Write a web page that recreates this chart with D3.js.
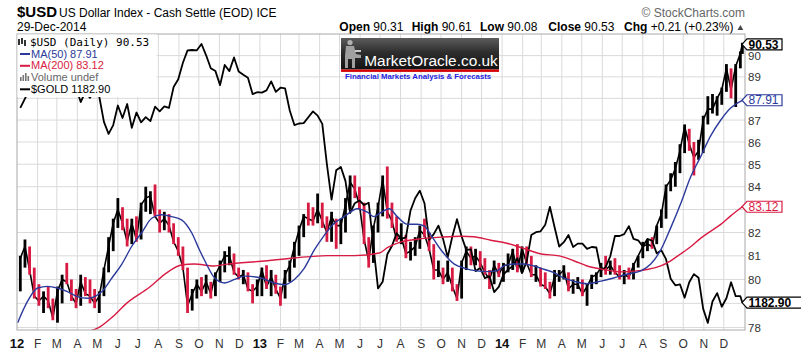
<!DOCTYPE html>
<html>
<head>
<meta charset="utf-8">
<script src="https://cdn.jsdelivr.net/npm/d3@7"></script>
<style>
  body { margin: 0; background: #fff; }
  svg { display: block; }
</style>
</head>
<body>
<div id="chart"></div>
<script>
// weekly USD bars (Fridays from 6 Jan 2012, last bar 29 Dec 2014)
const usdClose = [
  80.9, 81.4, 80.4, 79.3, 79.1, 79.3, 79.1, 78.4, 79.5, 80.0, 79.9, 79.3, 79.0, 79.9, 79.4, 79.3, 79.0, 79.3, 80.4, 81.4,
  82.4, 83.0, 82.4, 81.6, 82.4, 81.7, 83.2, 83.5, 83.6, 82.7, 82.4, 82.6, 82.3, 81.6, 81.2, 80.5, 78.9, 79.4, 79.8, 79.5,
  79.9, 79.4, 80.2, 80.6, 81.0, 81.0, 80.3, 80.1, 80.2, 79.6, 79.5, 79.7,
  80.4, 79.7, 80.1, 79.6, 79.2, 80.2, 80.6, 81.4, 82.1, 82.7, 82.6, 82.5, 83.0, 82.5, 82.0, 82.7, 82.3, 82.3, 83.2, 84.2,
  83.9, 83.2, 81.7, 80.8, 82.2, 83.1, 84.3, 82.9, 82.5, 81.7, 81.8, 81.1, 81.2, 81.4, 82.1, 81.9, 81.3, 80.4, 80.4, 80.0,
  80.3, 79.7, 79.2, 80.7, 81.2, 80.9, 81.0, 80.7, 80.3, 80.0, 80.6, 80.2,
  80.6, 80.6, 81.2, 80.4, 81.3, 80.7, 80.2, 80.2, 79.8, 79.7, 79.4, 80.1, 80.2, 80.4, 79.6, 79.8, 79.8, 79.4, 79.7, 80.1,
  80.2, 80.5, 80.4, 80.6, 80.3, 80.1, 80.2, 80.1, 80.6, 81.0, 81.4, 81.5, 81.4, 82.3, 82.8, 84.0, 84.3, 84.8, 85.6, 86.7,
  85.9, 85.3, 85.6, 87.0, 87.5, 87.5, 88.0, 88.4, 89.4, 88.4, 89.5, 90.1, 90.53
];
const usdHigh = [
  81.0, 81.7, 81.4, 80.5, 79.8, 79.5, 79.7, 79.2, 79.7, 80.2, 80.7, 80.0, 79.6, 80.2, 80.1, 80.0, 79.6, 79.5, 80.5, 81.8,
  82.6, 83.5, 83.1, 82.6, 82.6, 82.7, 83.3, 84.0, 83.8, 84.1, 83.0, 82.9, 82.8, 82.4, 81.8, 81.4, 80.5, 79.6, 80.0, 80.1,
  80.2, 79.9, 80.3, 80.8, 81.2, 81.4, 81.1, 80.5, 80.4, 80.3, 79.8, 80.0,
  80.5, 80.6, 80.4, 80.2, 79.7, 80.4, 80.8, 81.6, 82.3, 82.8, 83.3, 83.1, 83.7, 83.3, 82.7, 82.9, 82.6, 82.6, 83.5, 84.5,
  84.5, 84.0, 83.3, 81.8, 82.3, 83.3, 84.5, 84.9, 83.3, 82.7, 82.4, 81.9, 81.6, 81.8, 82.3, 82.6, 82.0, 81.5, 80.8, 80.5,
  80.8, 80.5, 79.8, 80.8, 81.4, 81.4, 81.3, 81.2, 80.9, 80.4, 80.8, 80.7,
  80.7, 81.1, 81.3, 81.5, 81.4, 81.4, 81.0, 80.6, 80.5, 80.3, 79.9, 80.4, 80.4, 80.6, 80.3, 80.0, 80.1, 80.0, 79.8, 80.2,
  80.3, 80.7, 81.0, 80.8, 80.9, 80.6, 80.4, 80.5, 80.7, 81.0, 81.6, 81.7, 81.8, 82.3, 83.0, 84.1, 84.6, 85.1, 85.9, 86.8,
  86.6, 86.0, 86.1, 87.2, 88.1, 88.2, 88.1, 88.5, 89.6, 89.4, 89.6, 90.2, 90.61
];
const usdLow = [
  79.5, 80.5, 80.2, 79.2, 78.9, 78.6, 78.8, 78.3, 78.2, 79.0, 79.8, 79.1, 78.8, 78.9, 79.3, 79.0, 78.8, 78.6, 79.3, 80.3,
  81.2, 82.2, 82.1, 81.4, 81.5, 81.6, 81.7, 82.9, 82.8, 82.7, 82.0, 82.1, 82.0, 81.5, 81.0, 80.4, 78.6, 78.7, 79.2, 79.3,
  79.4, 79.2, 79.3, 79.9, 80.3, 80.6, 80.2, 80.0, 79.8, 79.5, 79.0, 79.3,
  79.3, 79.6, 79.3, 79.4, 78.9, 79.2, 79.9, 80.5, 81.0, 81.8, 82.3, 82.3, 82.4, 82.2, 81.6, 81.6, 81.3, 81.5, 82.0, 83.0,
  83.5, 83.0, 81.5, 80.5, 80.7, 82.0, 82.7, 82.6, 82.2, 81.6, 81.5, 80.9, 80.8, 81.0, 81.3, 81.8, 81.2, 80.0, 80.1, 79.8,
  79.9, 79.5, 79.1, 79.2, 80.4, 80.6, 80.6, 80.5, 80.2, 79.6, 79.8, 80.1,
  79.9, 80.3, 80.4, 80.3, 80.3, 80.6, 80.1, 79.9, 79.7, 79.6, 79.2, 79.3, 79.9, 80.0, 79.5, 79.4, 79.6, 79.3, 78.9, 79.6,
  79.8, 80.1, 80.2, 80.2, 80.2, 80.0, 79.8, 80.0, 80.0, 80.5, 80.9, 81.2, 81.3, 81.5, 82.2, 82.6, 83.8, 84.0, 84.6, 85.5,
  85.6, 84.5, 85.2, 85.5, 86.8, 87.3, 87.2, 87.7, 88.3, 88.0, 87.6, 89.4, 90.08
];
// $GOLD overlay, same weeks
const goldClose = [
  1616, 1640, 1664, 1737, 1725, 1722, 1725, 1775, 1710, 1711, 1656, 1662, 1668, 1631, 1658, 1642, 1663, 1645, 1580, 1550,
  1572, 1622, 1590, 1626, 1565, 1604, 1579, 1592, 1582, 1619, 1607, 1620, 1616, 1671, 1692, 1737, 1772, 1773, 1772, 1790,
  1758, 1722, 1714, 1676, 1731, 1714, 1752, 1713, 1704, 1696, 1652, 1657,
  1656, 1662, 1686, 1658, 1669, 1667, 1609, 1572, 1576, 1577, 1592, 1607, 1596, 1575, 1476, 1395, 1462, 1470, 1437, 1365,
  1387, 1393, 1383, 1388, 1296, 1210, 1223, 1278, 1295, 1322, 1310, 1313, 1371, 1398, 1415, 1387, 1308, 1320, 1338, 1310,
  1272, 1315, 1352, 1315, 1287, 1288, 1244, 1250, 1230, 1234, 1203, 1213,
  1237, 1247, 1254, 1270, 1240, 1263, 1318, 1324, 1326, 1340, 1379, 1335, 1294, 1303, 1318, 1293, 1300, 1300, 1289, 1293,
  1292, 1245, 1252, 1274, 1316, 1316, 1320, 1337, 1310, 1307, 1294, 1310, 1306, 1280, 1286, 1268, 1229, 1216, 1218, 1192,
  1222, 1238, 1231, 1171, 1145, 1185, 1201, 1175, 1191, 1222, 1195, 1195, 1182.9
];
const ma50 = [
  ["2012-01-02", 78.2], ["2012-01-17", 79.09], ["2012-02-01", 79.64], ["2012-02-16", 79.71], ["2012-03-02", 79.64],
  ["2012-03-17", 79.49], ["2012-04-01", 79.28], ["2012-04-16", 79.21], ["2012-04-27", 79.28], ["2012-05-08", 79.49],
  ["2012-05-23", 80.06], ["2012-06-07", 80.65], ["2012-06-22", 81.41], ["2012-07-07", 82.0], ["2012-07-22", 82.62],
  ["2012-08-06", 82.77], ["2012-08-21", 82.69], ["2012-09-05", 82.55], ["2012-09-20", 82.0], ["2012-10-02", 81.25],
  ["2012-10-10", 80.79], ["2012-10-25", 80.06], ["2012-11-09", 79.85], ["2012-11-24", 80.0], ["2012-12-09", 80.14],
  ["2013-01-03", 80.06], ["2013-01-23", 79.85], ["2013-02-07", 79.78], ["2013-02-22", 80.0], ["2013-03-09", 80.48],
  ["2013-03-24", 81.25], ["2013-04-08", 81.88], ["2013-04-23", 82.4], ["2013-05-08", 82.69], ["2013-05-28", 83.03],
  ["2013-06-12", 82.88], ["2013-06-22", 82.69], ["2013-07-03", 82.88], ["2013-07-15", 83.03], ["2013-07-27", 82.69],
  ["2013-08-11", 82.36], ["2013-08-26", 82.36], ["2013-09-06", 82.28], ["2013-09-16", 81.88], ["2013-10-01", 81.25],
  ["2013-10-21", 80.65], ["2013-11-05", 80.48], ["2013-11-24", 80.36], ["2013-12-09", 80.33], ["2013-12-24", 80.36],
  ["2014-01-04", 80.57], ["2014-01-19", 80.65], ["2014-02-03", 80.65], ["2014-02-18", 80.57], ["2014-03-05", 80.43],
  ["2014-03-20", 80.29], ["2014-04-04", 80.06], ["2014-04-19", 79.93], ["2014-05-09", 79.82], ["2014-05-30", 79.93],
  ["2014-06-18", 80.06], ["2014-07-08", 80.22], ["2014-07-29", 80.36], ["2014-08-13", 80.65], ["2014-08-28", 81.25],
  ["2014-09-12", 82.2], ["2014-09-27", 83.25], ["2014-10-12", 84.43], ["2014-10-27", 85.33], ["2014-11-11", 86.27],
  ["2014-11-26", 86.98], ["2014-12-11", 87.54], ["2014-12-29", 87.91]
];
const ma200 = [
  ["2012-04-12", 77.8], ["2012-05-05", 78.03], ["2012-05-24", 78.44], ["2012-06-14", 79.0], ["2012-07-19", 79.68],
  ["2012-08-13", 80.27], ["2012-09-06", 80.62], ["2012-09-24", 80.65], ["2012-10-24", 80.57], ["2012-11-13", 80.65],
  ["2013-01-03", 80.77], ["2013-02-22", 80.91], ["2013-04-12", 81.01], ["2013-05-23", 81.01], ["2013-06-30", 81.12],
  ["2013-07-12", 81.35], ["2013-08-02", 81.6], ["2013-08-26", 81.71], ["2013-10-01", 81.8], ["2013-10-31", 81.84],
  ["2013-11-19", 81.82], ["2013-12-15", 81.67], ["2014-01-08", 81.54], ["2014-02-03", 81.31], ["2014-03-01", 81.08],
  ["2014-03-28", 81.0], ["2014-04-19", 80.79], ["2014-05-09", 80.57], ["2014-06-03", 80.42], ["2014-06-29", 80.32],
  ["2014-07-19", 80.35], ["2014-08-07", 80.42], ["2014-08-28", 80.57], ["2014-09-12", 80.79], ["2014-09-27", 81.08],
  ["2014-10-12", 81.39], ["2014-10-27", 81.75], ["2014-11-11", 82.05], ["2014-11-26", 82.34], ["2014-12-11", 82.71],
  ["2014-12-29", 83.12]
];
const gridLevels = [78, 79, 80, 81, 82, 83, 84, 85, 86, 87, 88, 89, 90];
const priceLabels = [78, 80, 81, 82, 84, 85, 86, 87, 89, 90];
const monthLetters = ["J", "F", "M", "A", "M", "J", "J", "A", "S", "O", "N", "D"];
const quote = [["Open", "90.31"], ["High", "90.61"], ["Low", "90.08"], ["Close", "90.53"], ["Chg", "+0.21 (+0.23%)"]];

const parseDate = d3.timeParse("%Y-%m-%d");
const weekDates = d3.timeFriday.range(new Date(2012, 0, 6), new Date(2014, 11, 27)).concat([new Date(2014, 11, 29)]);
const months = d3.timeMonth.range(new Date(2012, 0, 1), new Date(2015, 0, 1));

const width = 801, height = 352;
const plot = {left: 17, right: 745, top: 34, bottom: 330};
const red = '#d81b43', blue = '#2b3a9c';

const svg = d3.select('#chart').append('svg')
  .attr('width', width)
  .attr('height', height)
  .style('font-family', '"Liberation Sans", Arial, sans-serif');

const x = d3.scaleTime()
  .domain([new Date(2012, 0, 1), new Date(2015, 0, 2)])
  .range([plot.left, plot.right]);
const y = d3.scaleLog()
  .domain([77.9, 91.03])
  .range([plot.bottom, plot.top]);
const yGold = d3.scaleLog()
  .domain([1132, 1819])
  .range([plot.bottom, plot.top]);

const defs = svg.append('defs');
defs.append('clipPath').attr('id', 'clip')
  .append('rect')
  .attr('x', plot.left).attr('y', plot.top)
  .attr('width', plot.right - plot.left).attr('height', plot.bottom - plot.top);
const grad = defs.append('linearGradient').attr('id', 'logoGrad')
  .attr('x1', 0).attr('y1', 0).attr('x2', 0).attr('y2', 1);
grad.append('stop').attr('offset', '0%').attr('stop-color', '#5c5c5c');
grad.append('stop').attr('offset', '45%').attr('stop-color', '#2e2e2e');
grad.append('stop').attr('offset', '100%').attr('stop-color', '#121212');

// header
svg.append('text').attr('x', 17).attr('y', 17)
  .attr('font-size', '15px').attr('font-weight', 'bold').text('$USD');
svg.append('text').attr('x', 59).attr('y', 17)
  .attr('font-size', '12px').text('US Dollar Index - Cash Settle (EOD) ICE');
svg.append('text').attr('x', 17).attr('y', 31)
  .attr('font-size', '12px').text('29-Dec-2014');
svg.append('text').attr('x', 745).attr('y', 17)
  .attr('text-anchor', 'end').attr('font-size', '12px').attr('fill', '#666')
  .text('\u00a9 StockCharts.com');

const quoteX = [339.3, 411.7, 480, 548.3, 624];
quote.forEach(([label, value], i) => {
  const t = svg.append('text').attr('x', quoteX[i]).attr('y', 31).attr('font-size', '12px');
  t.append('tspan').attr('font-weight', 'bold').text(label);
  t.append('tspan').text(' ' + value);
});
svg.append('path')
  .attr('d', 'M737.5,30 L743.3,30 L740.4,25 Z')
  .attr('fill', '#444');

// grid
const grid = svg.append('g');
grid.selectAll('line.h')
  .data(gridLevels)
  .enter()
  .append('line')
  .attr('class', 'h')
  .attr('x1', plot.left).attr('x2', plot.right)
  .attr('y1', d => y(d)).attr('y2', d => y(d))
  .attr('stroke', '#dadada');
grid.selectAll('line.v')
  .data(months.slice(1))
  .enter()
  .append('line')
  .attr('class', 'v')
  .attr('x1', d => x(d)).attr('x2', d => x(d))
  .attr('y1', plot.top).attr('y2', plot.bottom)
  .attr('stroke', '#dadada');

const marks = svg.append('g').attr('clip-path', 'url(#clip)');

// price: close line joining the weekly bars, then the high-low bars
marks.append('path')
  .datum(usdClose)
  .attr('fill', 'none')
  .attr('stroke', '#000')
  .attr('stroke-width', 1.6)
  .attr('d', d3.line().x((d, i) => x(weekDates[i])).y(d => y(d)));
marks.selectAll('rect.bar')
  .data(weekDates)
  .enter()
  .append('rect')
  .attr('class', 'bar')
  .attr('x', d => x(d) - 1.4)
  .attr('width', 2.8)
  .attr('y', (d, i) => y(usdHigh[i]))
  .attr('height', (d, i) => Math.max(1, y(usdLow[i]) - y(usdHigh[i])))
  .attr('fill', (d, i) => i > 0 && usdClose[i] < usdClose[i - 1] ? red : '#000');

// gold overlay
marks.append('path')
  .datum(goldClose)
  .attr('fill', 'none')
  .attr('stroke', '#000')
  .attr('stroke-width', 1.8)
  .attr('stroke-linejoin', 'round')
  .attr('d', d3.line().x((d, i) => x(weekDates[i])).y(d => yGold(d)));

const maLine = d3.line()
  .x(d => x(parseDate(d[0])))
  .y(d => y(d[1]))
  .curve(d3.curveMonotoneX);
marks.append('path').datum(ma200)
  .attr('fill', 'none').attr('stroke', red).attr('stroke-width', 1.4)
  .attr('d', maLine);
marks.append('path').datum(ma50)
  .attr('fill', 'none').attr('stroke', blue).attr('stroke-width', 1.4)
  .attr('d', maLine);

// plot frame
svg.append('rect')
  .attr('x', plot.left).attr('y', plot.top)
  .attr('width', plot.right - plot.left).attr('height', plot.bottom - plot.top)
  .attr('fill', 'none').attr('stroke', '#a8a8a8');

// x axis labels
svg.append('g')
  .selectAll('text')
  .data(months)
  .enter()
  .append('text')
  .attr('x', d => x(d))
  .attr('y', 348)
  .attr('text-anchor', 'middle')
  .attr('font-size', d => d.getMonth() === 0 ? '13px' : '12px')
  .attr('font-weight', d => d.getMonth() === 0 ? 'bold' : 'normal')
  .attr('fill', d => d.getMonth() === 0 ? '#111' : '#333')
  .text(d => d.getMonth() === 0 ? d3.timeFormat('%y')(d) : monthLetters[d.getMonth()]);

// right axis labels
svg.append('g')
  .selectAll('text')
  .data(priceLabels)
  .enter()
  .append('text')
  .attr('x', 748)
  .attr('y', d => y(d) + 4.5)
  .attr('font-size', '11.5px')
  .attr('fill', '#333')
  .text(d => d);

// value tags
function valueTag(yPos, label, color, bold, w) {
  const g = svg.append('g');
  g.append('path')
    .attr('d', `M742,${yPos} L747,${yPos - 5.5} L${747 + w},${yPos - 5.5} L${747 + w},${yPos + 5.5} L747,${yPos + 5.5} Z`)
    .attr('fill', '#fff').attr('stroke', color).attr('stroke-width', 1.2);
  g.append('text')
    .attr('x', 748.5).attr('y', yPos + 4.2)
    .attr('font-size', '12px')
    .attr('font-weight', bold ? 'bold' : 'normal')
    .attr('fill', color)
    .text(label);
}
const n = usdClose.length - 1;
valueTag(y(usdClose[n]), usdClose[n].toFixed(2), '#000', true, 35);
valueTag(y(ma50[ma50.length - 1][1]), ma50[ma50.length - 1][1].toFixed(2), blue, false, 35);
valueTag(y(ma200[ma200.length - 1][1]), ma200[ma200.length - 1][1].toFixed(2), red, false, 35);
valueTag(yGold(goldClose[n]), goldClose[n].toFixed(2), '#000', true, 60);

// legend
const legend = svg.append('g');
legend.append('rect')
  .attr('x', plot.left + 0.5).attr('y', plot.top + 0.5)
  .attr('width', 139).attr('height', 62.5)
  .attr('fill', '#fff');
// ohlc icon
[[19, 39, 45], [22, 38, 44], [25, 40, 46]].forEach(([bx, t, b]) => {
  legend.append('line').attr('x1', bx).attr('x2', bx).attr('y1', t).attr('y2', b)
    .attr('stroke', '#000').attr('stroke-width', 1.6);
});
legend.append('text').attr('x', 30).attr('y', 45.7)
  .attr('font-family', '"DejaVu Sans Mono", monospace').attr('font-size', '11px')
  .text('$USD (Daily) ' + usdClose[n].toFixed(2));
const legendRows = [
  ['MA(50) ' + ma50[ma50.length - 1][1].toFixed(2), blue, 57.5, 'dash'],
  ['MA(200) ' + ma200[ma200.length - 1][1].toFixed(2), red, 69.3, 'dash'],
  ['Volume undef', '#666', 81, 'vol'],
  ['$GOLD ' + goldClose[n].toFixed(2), '#000', 92.8, 'dash']
];
legendRows.forEach(([label, color, base, icon]) => {
  if (icon === 'dash') {
    legend.append('rect').attr('x', 20).attr('y', base - 4.5).attr('width', 10).attr('height', 2)
      .attr('fill', color);
  } else {
    [[20, 4], [22.5, 6], [25, 8], [27.5, 5]].forEach(([bx, h]) => {
      legend.append('rect').attr('x', bx).attr('y', base - h).attr('width', 1.6).attr('height', h)
        .attr('fill', '#777');
    });
  }
  legend.append('text').attr('x', 31).attr('y', base)
    .attr('font-size', '11px').attr('fill', color).text(label);
});

// logo
const logo = svg.append('g');
logo.append('rect').attr('x', 341).attr('y', 38).attr('width', 158).attr('height', 31.5)
  .attr('fill', 'url(#logoGrad)');
logo.append('rect').attr('x', 341).attr('y', 69.5).attr('width', 158).attr('height', 2.4)
  .attr('fill', '#d40000');
logo.append('circle').attr('cx', 350).attr('cy', 42.5).attr('r', 2.6).attr('fill', '#b0b0b0');
logo.append('path')
  .attr('d', 'M346,46 L354,46 L356,54 L361,55 L361,58 L355,58 L355,68 L352,68 L352,59 L348,59 L348,68 L345,68 L345,56 Z')
  .attr('fill', '#a0a0a0');
logo.append('rect').attr('x', 355).attr('y', 50).attr('width', 6).attr('height', 2).attr('fill', '#c8c8c8');
logo.append('text').attr('x', 364.3).attr('y', 66)
  .attr('font-size', '15.4px').attr('fill', '#fff').text('MarketOracle.co.uk');
logo.append('text').attr('x', 345).attr('y', 79.3)
  .attr('font-size', '7.8px').attr('font-weight', 'bold').attr('fill', '#1c1ce0')
  .text('Financial Markets Analysis & Forecasts');
</script>
</body>
</html>
